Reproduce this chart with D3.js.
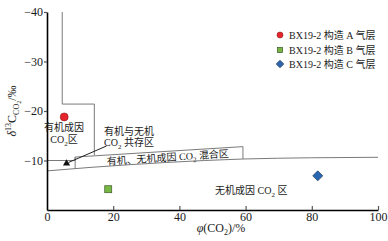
<!DOCTYPE html>
<html><head><meta charset="utf-8">
<script src="https://cdn.jsdelivr.net/npm/d3@7"></script>
<style>
html,body{margin:0;padding:0;background:#fff;}
svg{display:block;}
text{font-family:"Liberation Serif","Noto Sans CJK SC",serif;fill:#1a1a1a;}
</style></head>
<body>
<svg id="c" width="388" height="241"></svg>
<script>
// ---- data ----
const xTicks = [0, 20, 40, 60, 80, 100];
const yTicks = [-40, -30, -20, -10];
const seriesNames = ["BX19-2 构造 A 气层", "BX19-2 构造 B 气层", "BX19-2 构造 C 气层"];
const seriesX = [5.2, 18.5, 81.8];       // φ(CO2) %
const seriesY = [-18.8, -4.2, -6.9];     // δ13C ‰
const seriesColors = ["#e5242b", "#78b743", "#2a67b1"];
const seriesShapes = ["circle", "square", "diamond"];
// zone boundaries (data coordinates)
const organicBoundary = [[4.6, -40], [4.6, -21.4], [14.3, -21.4], [14.3, -11.1]];
const coexistBoundary = [[0, -10], [8.5, -10], [8.5, -10.7], [8.5, -8.3]];
const mixTop = [[8.5, -10.7], [59.2, -12.8], [59.2, -10.3]];
const bottomCurve = [[0, -7.9], [13, -8.6], [36, -9.6], [59.2, -10.3], [80, -10.55], [100, -10.65]];
const arrowPoint = [5.9, -9.4];

const svg = d3.select("#c");
const x = d3.scaleLinear().domain([0, 100]).range([47, 378]);
const y = d3.scaleLinear().domain([0, -40]).range([210, 12]);

// zone lines
const line = d3.line().x(d => x(d[0])).y(d => y(d[1]));
const g = svg.append("g").attr("fill", "none").attr("stroke", "#7a7a7a").attr("stroke-width", 1);
g.append("path").attr("d", line(organicBoundary));
g.append("path").attr("d", line(coexistBoundary));
g.append("path").attr("d", line(mixTop));
g.append("path").attr("d", line.curve(d3.curveMonotoneX)(bottomCurve));

// axes
const xAxis = d3.axisBottom(x).tickValues(xTicks).tickSizeInner(-4).tickSizeOuter(0).tickPadding(2)
  .tickFormat(d => d);
const xg = svg.append("g").attr("transform", `translate(0,${y(0)})`).call(xAxis);
xg.select(".domain").attr("stroke", "#000").attr("stroke-width", 1.6);
xg.selectAll(".tick line").attr("stroke", "#555").attr("stroke-width", 1.2);
xg.selectAll(".tick").filter(d => d === 0).select("line").remove();
xg.selectAll("text").attr("font-size", 12).attr("font-family", "Liberation Serif").attr("fill", "#111");

const yAxis = d3.axisLeft(y).tickValues(yTicks).tickSizeInner(3).tickSizeOuter(0).tickPadding(1)
  .tickFormat(d => "\u2212" + Math.abs(d));
const yg = svg.append("g").attr("transform", `translate(${x(0)},0)`).call(yAxis);
yg.select(".domain").attr("stroke", "#000").attr("stroke-width", 1.6);
yg.selectAll(".tick line").attr("stroke", "#555").attr("stroke-width", 1.2);
yg.selectAll("text").attr("font-size", 12).attr("font-family", "Liberation Serif").attr("fill", "#111");

// arrow
svg.append("line").attr("x1", 106.5).attr("y1", 146).attr("x2", x(arrowPoint[0]) + 2).attr("y2", y(arrowPoint[1]) - 1)
  .attr("stroke", "#222").attr("stroke-width", 1);
svg.append("path").attr("transform", `translate(${x(arrowPoint[0])},${y(arrowPoint[1])})`)
  .attr("d", d3.symbol(d3.symbolTriangle, 22)()).attr("fill", "#111");

// markers
function drawMarker(sel, shape, cx, cy, color, scale) {
  if (shape === "circle") {
    sel.append("circle").attr("cx", cx).attr("cy", cy).attr("r", 4 * scale)
      .attr("fill", color).attr("stroke", "#8b1a1a").attr("stroke-width", 0.6);
  } else if (shape === "square") {
    const s = 7 * scale;
    sel.append("rect").attr("x", cx - s / 2).attr("y", cy - s / 2).attr("width", s).attr("height", s)
      .attr("fill", color).attr("stroke", "#3d5a2a").attr("stroke-width", 0.7);
  } else {
    const s = 5 * scale;
    sel.append("path").attr("d", `M${cx},${cy - s}L${cx + s},${cy}L${cx},${cy + s}L${cx - s},${cy}Z`)
      .attr("fill", color).attr("stroke", "#1d3557").attr("stroke-width", 0.7);
  }
}
seriesX.forEach((v, i) => drawMarker(svg, seriesShapes[i], x(v), y(seriesY[i]), seriesColors[i], 1));

// legend
const legY = [35, 50, 64];
seriesNames.forEach((n, i) => {
  drawMarker(svg, seriesShapes[i], 280, legY[i], seriesColors[i], 0.75);
  svg.append("text").attr("x", 289).attr("y", legY[i] + 3.5).attr("font-size", 10).text(n);
});

// zone labels
const lab = svg.append("g").attr("font-size", 10);
lab.append("text").attr("x", 64).attr("y", 131).attr("text-anchor", "middle").text("有机成因");
const t1 = lab.append("text").attr("x", 64).attr("y", 142.5).attr("text-anchor", "middle");
t1.append("tspan").text("CO");
t1.append("tspan").attr("font-size", 7).attr("dy", 3).text("2");
t1.append("tspan").attr("dy", -3).text("区");

lab.append("text").attr("x", 104).attr("y", 135).text("有机与无机");
const t2 = lab.append("text").attr("x", 104).attr("y", 146);
t2.append("tspan").text("CO");
t2.append("tspan").attr("font-size", 7).attr("dy", 3).text("2");
t2.append("tspan").attr("dy", -3).text(" 共存区");

const t3 = lab.append("text").attr("transform", "translate(168,161) rotate(-3.7)").attr("text-anchor", "middle");
t3.append("tspan").text("有机、无机成因 CO");
t3.append("tspan").attr("font-size", 7).attr("dy", 3).text("2");
t3.append("tspan").attr("dy", -3).text(" 混合区");

const t4 = lab.append("text").attr("x", 215).attr("y", 193.5);
t4.append("tspan").text("无机成因 CO");
t4.append("tspan").attr("font-size", 7).attr("dy", 3).text("2");
t4.append("tspan").attr("dy", -3).text(" 区");

// axis titles
const xt = svg.append("text").attr("x", 221).attr("y", 232).attr("text-anchor", "middle").attr("font-size", 12);
xt.append("tspan").attr("font-style", "italic").text("φ");
xt.append("tspan").text("(CO");
xt.append("tspan").attr("font-size", 8).attr("dy", 3).text("2");
xt.append("tspan").attr("dy", -3).text(")/%");

const yt = svg.append("text").attr("transform", "translate(16,111) rotate(-90)").attr("text-anchor", "middle").attr("font-size", 12);
yt.append("tspan").attr("font-style", "italic").text("δ");
yt.append("tspan").attr("font-size", 8).attr("dy", -5).text("13");
yt.append("tspan").attr("dy", 5).text("C");
yt.append("tspan").attr("font-size", 8).attr("dy", 3).text("CO");
yt.append("tspan").attr("font-size", 6).attr("dy", 2).text("2");
yt.append("tspan").attr("dy", -5).text("/‰");
</script>
</body></html>
